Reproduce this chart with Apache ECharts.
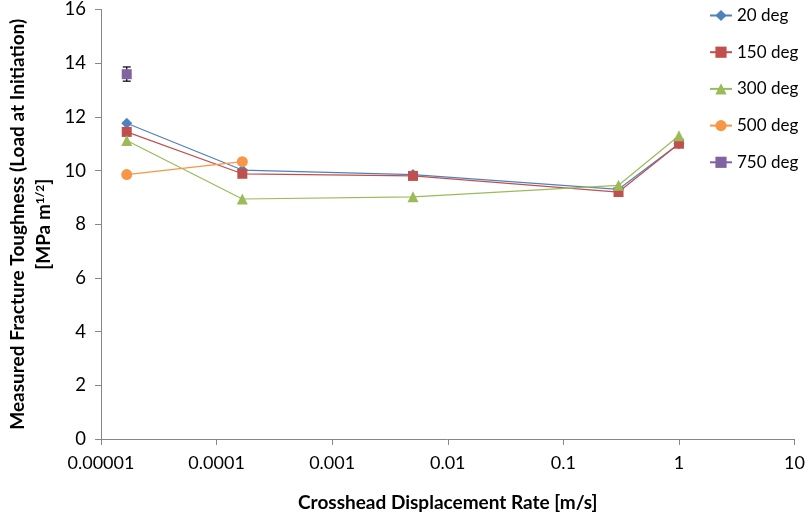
<!DOCTYPE html>
<html><head><meta charset="utf-8">
<script src="https://cdn.jsdelivr.net/npm/echarts@6/dist/echarts.min.js"></script>
<style>html,body{margin:0;padding:0;background:#fff}#c{width:808px;height:519px}</style>
</head><body><div id="c"></div>
<script>
const xTickLabels = ['0.00001','0.0001','0.001','0.01','0.1','1','10'];
const yTicks = [0,2,4,6,8,10,12,14,16];
const rates20 = [1.67e-5, 1.67e-4, 0.005, 0.3, 1];
const vals20 = [11.76, 10.02, 9.85, 9.3, 11.0];
const rates150 = [1.67e-5, 1.67e-4, 0.005, 0.3, 1];
const vals150 = [11.44, 9.88, 9.8, 9.2, 11.0];
const rates300 = [1.67e-5, 1.67e-4, 0.005, 0.3, 1];
const vals300 = [11.12, 8.94, 9.02, 9.45, 11.3];
const rates500 = [1.67e-5, 1.67e-4];
const vals500 = [9.85, 10.33];
const rates750 = [1.67e-5];
const vals750 = [13.59];
const err750Low = [13.33];
const err750High = [13.86];

const font = 'Lato, "Open Sans", sans-serif';
function pairs(xs, ys){ return xs.map((x,i)=>[x, ys[i]]); }
function mk(name, xs, ys, color, symbol, size){
  return {name, type:'line', data:pairs(xs,ys), symbol, symbolSize:size,
    itemStyle:{color}, lineStyle:{color, width:1.2}, animation:false};
}
const chart = echarts.init(document.getElementById('c'));
chart.setOption({
  animation:false,
  grid:{left:101, right:11, top:8, bottom:80},
  legend:{orient:'vertical', left:709, top:7, padding:0, itemGap:19.7, itemWidth:22, itemHeight:14,
    textStyle:{fontFamily:font, fontSize:17, color:'#000'},
    data:['20 deg','150 deg','300 deg','500 deg','750 deg']},
  xAxis:{type:'log', logBase:10, min:0.00001, max:10,
    axisLine:{lineStyle:{color:'#868686'}}, axisTick:{length:6, lineStyle:{color:'#868686'}},
    minorTick:{show:false}, splitLine:{show:false},
    axisLabel:{fontFamily:font, fontSize:18, color:'#000', margin:15,
      formatter:(v,i)=>xTickLabels[i]},
    name:'Crosshead Displacement Rate [m/s]', nameLocation:'middle', nameGap:54,
    nameTextStyle:{fontFamily:font, fontSize:19, fontWeight:'bold', color:'#000'}},
  yAxis:{type:'value', min:yTicks[0], max:yTicks[yTicks.length-1], interval:2,
    axisLine:{show:true, lineStyle:{color:'#868686'}}, axisTick:{show:true, length:6, lineStyle:{color:'#868686'}},
    splitLine:{show:false},
    axisLabel:{fontFamily:font, fontSize:18.5, color:'#000', margin:15},
    name:'{b|Measured Fracture Toughness (Load at Initiation)}\n{b|[MPa m}{s|1/2}{b|]}',
    nameLocation:'middle', nameRotate:90, nameGap:41,
    nameTextStyle:{align:'center', rich:{
      b:{fontFamily:font, fontSize:19, fontWeight:'bold', color:'#000', lineHeight:26},
      s:{fontFamily:font, fontSize:12, fontWeight:'bold', color:'#000', verticalAlign:'top', lineHeight:26, padding:[3,0,0,0]}
    }}},
  series:[
    mk('20 deg', rates20, vals20, '#4F81BD', 'diamond', 11),
    mk('150 deg', rates150, vals150, '#C0504D', 'rect', 10),
    mk('300 deg', rates300, vals300, '#9BBB59', 'triangle', 11),
    mk('500 deg', rates500, vals500, '#F79646', 'circle', 11),
    mk('750 deg', rates750, vals750, '#8064A2', 'rect', 10),
    {type:'custom', name:'err750', silent:true, z:1,
     data: rates750.map((x,i)=>[x, err750Low[i], err750High[i]]),
     renderItem:(params, api)=>{
       const lo = api.coord([api.value(0), api.value(1)]);
       const hi = api.coord([api.value(0), api.value(2)]);
       const w = 4;
       const st = {stroke:'#000', lineWidth:1.2};
       return {type:'group', children:[
         {type:'line', shape:{x1:lo[0],y1:lo[1],x2:hi[0],y2:hi[1]}, style:st},
         {type:'line', shape:{x1:lo[0]-w,y1:lo[1],x2:lo[0]+w,y2:lo[1]}, style:st},
         {type:'line', shape:{x1:hi[0]-w,y1:hi[1],x2:hi[0]+w,y2:hi[1]}, style:st}
       ]};
     }}
  ]
});
</script></body></html>
